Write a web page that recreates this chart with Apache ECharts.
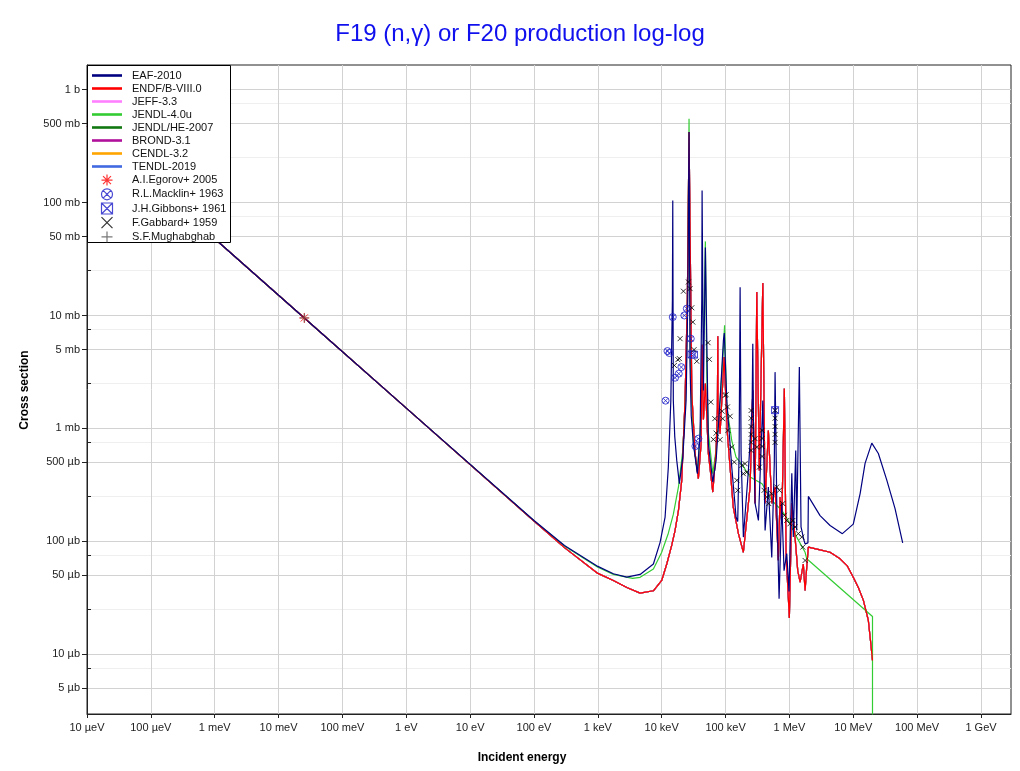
<!DOCTYPE html>
<html><head><meta charset="utf-8">
<script src="https://cdn.jsdelivr.net/npm/echarts@6/dist/echarts.min.js"></script>
<style>html,body{margin:0;padding:0;background:#fff}#chart{width:1020px;height:771px}</style>
</head><body><div id="chart"></div>
<script>
// ---------- tick labels ----------
const xDecades = [-5,-4,-3,-2,-1,0,1,2,3,4,5,6,7,8,9];
const xTickLabels = ['10 µeV','100 µeV','1 meV','10 meV','100 meV','1 eV','10 eV','100 eV','1 keV','10 keV','100 keV','1 MeV','10 MeV','100 MeV','1 GeV'];
const yMajorValues = [1, 0.5, 0.1, 0.05, 0.01, 0.005, 1e-3, 5e-4, 1e-4, 5e-5, 1e-5, 5e-6];
const yMajorLabels = ['1 b','500 mb','100 mb','50 mb','10 mb','5 mb','1 mb','500 µb','100 µb','50 µb','10 µb','5 µb'];
const yMinorValues = [0.75, 0.25, 0.075, 0.025, 7.5e-3, 2.5e-3, 7.5e-4, 2.5e-4, 7.5e-5, 2.5e-5, 7.5e-6];

// ---------- evaluated data: [energy (eV), cross section (b)] ----------
const eaf2010 = [
 [1e-5,0.478],[1e-3,0.0478],[0.0253,9.5e-3],[1,1.511e-3],[100,1.53e-4],[300,9.2e-5],
 [1000,6.0e-5],[1750,5.16e-5],[2840,4.82e-5],[4590,5.09e-5],[7410,6.3e-5],[9440,9.8e-5],
 [11300,1.64e-4],[12700,4.54e-4],[13900,1.77e-3],[14700,1.36e-2],[14900,0.104],[15200,1.77e-3],
 [16000,8.5e-4],[17200,5.21e-4],[18900,3.24e-4],[21400,5.57e-4],[24100,1.77e-3],[25600,1.36e-2],[26800,0.421],
 [27800,3.49e-3],[29000,1.3e-3],[31300,7.32e-4],[36200,3.97e-4],[39900,8.97e-4],[42400,1.36e-2],[42900,0.128],
 [45000,2.17e-3],[48300,0.040],[53800,7.32e-4],[63100,3.35e-4],[71100,5.21e-4],[82000,1.77e-3],
 [92500,6.0e-3],[95500,7.0e-3],[104500,1.77e-3],[125000,4.54e-4],[146000,1.64e-4],[155000,1.5e-4],
 [163000,6.0e-4],[169000,1.78e-2],[175000,6.0e-4],[190000,1.09e-4],[228000,4.25e-4],[260000,1.5e-3],
 [267000,5.63e-3],[275000,8.0e-4],[290000,2.17e-4],[327000,1.53e-4],[369000,9.6e-4],[383000,1.77e-3],
 [416000,1.25e-4],[468000,3.03e-4],[529000,7.2e-5],[580000,5.0e-4],[596000,3.15e-3],[634000,2.17e-4],
 [689000,3.1e-5],[759000,2.17e-4],[824000,5.5e-5],[908000,7.8e-5],[986000,3.6e-5],[1.09e6,4.0e-4],
 [1.15e6,1.09e-4],[1.256e6,6.38e-4],[1.30e6,1.25e-4],[1.43e6,3.5e-3],[1.52e6,1.34e-4],[1.69e6,1.02e-4],
 [1.76e6,9.5e-5],[1.95e6,9.7e-5],[1.98e6,2.5e-4],[3.02e6,1.69e-4],[4.33e6,1.38e-4],[6.75e6,1.17e-4],
 [1.0e7,1.42e-4],[1.28e7,2.65e-4],[1.53e7,4.9e-4],[1.95e7,7.41e-4],[2.47e7,6.0e-4],[3.34e7,3.5e-4],
 [4.51e7,1.95e-4],[5.94e7,9.7e-5]
];
const endfb80 = [
 [1e-5,0.478],[1e-3,0.0478],[0.0253,9.5e-3],[1,1.511e-3],[100,1.51e-4],[300,8.8e-5],
 [1000,5.2e-5],[1750,4.5e-5],[2840,3.9e-5],[4590,3.48e-5],[7410,3.65e-5],[10000,4.5e-5],
 [12000,6.3e-5],[14400,9.3e-5],[16200,1.25e-4],[18300,1.88e-4],[20600,3.47e-4],[23200,1.77e-3],
 [25200,1.36e-2],[26800,0.421],[29600,2.04e-3],[33300,6.01e-4],[37500,3.59e-4],[41400,7.32e-4],
 [42900,5.5e-3],[45000,1.2e-3],[48300,2.5e-3],[53800,6.0e-4],[63100,2.73e-4],[71100,6.38e-4],
 [74500,1.5e-3],[75500,6.53e-3],[76500,1.5e-3],[82000,8.97e-4],[94800,4.29e-3],[106800,8.97e-4],
 [132000,2.01e-4],[159000,1.17e-4],[190000,8.0e-5],[242000,3.03e-4],[267000,2.17e-3],[290000,2.17e-4],
 [308000,1.61e-2],[338000,4.25e-4],[383000,1.94e-2],[416000,2.17e-4],[468000,9.6e-4],[498000,9.6e-4],
 [529000,2.17e-4],[596000,3.03e-4],[671000,6.8e-5],[713000,2.47e-4],[759000,1.44e-4],[833000,2.25e-3],
 [886000,7.8e-5],[998000,2.1e-5],[1.09e6,2.17e-4],[1.225e6,1.09e-4],[1.35e6,5.5e-5],[1.47e6,4.36e-5],
 [1.65e6,6.3e-5],[1.76e6,3.67e-5],[1.87e6,6.0e-5],[1.98e6,8.9e-5],[3.02e6,8.4e-5],[4.33e6,8.0e-5],
 [6.21e6,7.0e-5],[7.98e6,6.1e-5],[1.0e7,4.8e-5],[1.2e7,3.9e-5],[1.44e7,3.0e-5],[1.72e7,2.0e-5],
 [1.86e7,1.32e-5],[2.0e7,8.8e-6]
];
const jendl40u = [
 [1e-5,0.478],[1e-3,0.0478],[0.0253,9.5e-3],[1,1.511e-3],[100,1.52e-4],[300,9.1e-5],
 [1000,5.9e-5],[1750,5.1e-5],[3500,4.7e-5],[4590,4.8e-5],[7410,5.7e-5],[10000,8.0e-5],
 [12700,1.18e-4],[15200,1.73e-4],[18300,3.03e-4],[21400,6.38e-4],[24100,2.5e-3],[25600,2.0e-2],
 [26800,0.553],[28000,4.0e-3],[31300,7.5e-4],[36200,4.1e-4],[40000,9.5e-4],[44000,3.0e-3],
 [48300,4.53e-2],[50800,3.0e-3],[54000,9.0e-4],[63100,3.97e-4],[71100,6.5e-4],[82000,1.77e-3],
 [92500,5.0e-3],[96500,8.17e-3],[104500,1.55e-3],[125000,7.8e-4],[146000,5.57e-4],[190000,4.6e-4],
 [242000,3.71e-4],[373000,3.24e-4],[529000,2.3e-4],[760000,1.88e-4],[1.02e6,1.44e-4],[1.30e6,1.09e-4],
 [1.76e6,8.0e-5],[1.87e6,7.0e-5],[2.0e7,2.16e-5],[2.0e7,0]
];
// libraries whose curves lie underneath the ENDF/B-VIII.0 curve
const jeff33 = endfb80;
const jendlHe2007 = endfb80;
const brond31 = endfb80;
const cendl32 = endfb80;
const tendl2019 = endfb80;

// ---------- experimental data: [energy (eV), cross section (b)] ----------
const egorov2005 = [[0.0253,9.51e-3]];
const mughabghab = [[0.0253,9.51e-3]];
const macklin1963 = [
 [11500,1.76e-3],[12300,4.84e-3],[13200,4.65e-3],[14900,9.68e-3],[16200,2.81e-3],[18500,3.05e-3],
 [20300,3.49e-3],[22600,1.0e-2],[24700,1.15e-2],[28500,6.23e-3],[33700,6.97e-4],[37500,8.11e-4]
];
const gibbons1961 = [[29300,4.52e-3],[32000,4.5e-3],[596000,1.45e-3]];
const gabbard1959 = [
 [15800,3.61e-3],[17900,4.06e-3],[18900,4.15e-3],[19400,6.23e-3],[21900,1.64e-2],[26200,1.98e-2],
 [27800,1.73e-2],[29600,1.17e-2],[30700,8.74e-3],[32100,4.98e-3],[35400,3.93e-3],[53200,5.74e-3],
 [55800,4.09e-3],[58700,1.71e-3],[64400,7.99e-4],[67800,1.22e-3],[71100,9.08e-4],[82000,7.94e-4],
 [88200,1.42e-3],[90400,1.22e-3],[98300,1.96e-3],[102000,1.99e-3],[107000,1.55e-3],[109000,9.6e-4],
 [118000,1.28e-3],[125000,6.83e-4],[137000,5.03e-4],[150000,3.47e-4],[155000,2.83e-4],[180000,4.7e-4],
 [190000,3.97e-4],[202000,4.87e-4],[215000,4.1e-4],
 [251000,1.44e-3],[251000,1.23e-3],[251000,1.04e-3],[251000,8.85e-4],[251000,7.52e-4],[251000,6.38e-4],
 [290000,8.11e-4],[308000,6.83e-4],[338000,4.54e-4],
 [373000,9.6e-4],[373000,8.15e-4],[373000,6.93e-4],[373000,5.65e-4],
 [401000,2.83e-4],[442000,2.47e-4],[475000,2.16e-4],[529000,2.64e-4],
 [596000,1.44e-3],[596000,1.23e-3],[596000,1.04e-3],[596000,8.85e-4],[596000,7.52e-4],
 [634000,3.03e-4],[696000,2.83e-4],[787000,2.16e-4],[833000,1.7e-4],[908000,1.53e-4],[1.02e6,1.43e-4],
 [1.13e6,1.53e-4],[1.225e6,1.34e-4],[1.38e6,1.17e-4],[1.56e6,1.09e-4],[1.62e6,8.89e-5],[1.76e6,6.77e-5]
];

// ---------- build ----------
const L = v => Math.log10(Math.max(v, 1e-12));
const toLog = pts => pts.map(p => [L(p[0]), L(p[1])]);
const FONT = 'Liberation Sans, Arial, Helvetica, sans-serif';

const lineDefs = [
  ['EAF-2010', '#000080', eaf2010],
  ['ENDF/B-VIII.0', '#ff0000', endfb80],
  ['JEFF-3.3', '#ff80ff', jeff33],
  ['JENDL-4.0u', '#33cc33', jendl40u],
  ['JENDL/HE-2007', '#117711', jendlHe2007],
  ['BROND-3.1', '#b0109a', brond31],
  ['CENDL-3.2', '#ffa500', cendl32],
  ['TENDL-2019', '#4169e1', tendl2019]
];
// drawing order (last on top)
const drawOrder = ['TENDL-2019','CENDL-3.2','BROND-3.1','JENDL/HE-2007','JEFF-3.3','JENDL-4.0u','ENDF/B-VIII.0','EAF-2010'];

const SYM = {
  asterisk: 'path://M0,-5 L0,5 M-5,0 L5,0 M-3.6,-3.6 L3.6,3.6 M-3.6,3.6 L3.6,-3.6',
  circleX: 'path://M5,0 A5,5 0 1,1 -5,0 A5,5 0 1,1 5,0 Z M-3.5,-3.5 L3.5,3.5 M-3.5,3.5 L3.5,-3.5',
  squareX: 'path://M-5,-5 L5,-5 L5,5 L-5,5 Z M-5,-5 L5,5 M-5,5 L5,-5',
  cross: 'path://M-5,-5 L5,5 M-5,5 L5,-5',
  plus: 'path://M0,-5 L0,5 M-5,0 L5,0'
};
const LINE_ICON = 'path://M0,0 L30,0 L30,2.6 L0,2.6 Z';
const scatterDefs = [
  ['A.I.Egorov+ 2005', '#ff0000', egorov2005, SYM.asterisk, 10],
  ['R.L.Macklin+ 1963', '#1c1cc8', macklin1963, SYM.circleX, 7],
  ['J.H.Gibbons+ 1961', '#1c1cc8', gibbons1961, SYM.squareX, 7],
  ['F.Gabbard+ 1959', '#000000', gabbard1959, SYM.cross, 5],
  ['S.F.Mughabghab', '#555555', mughabghab, SYM.plus, 9]
];

const series = [];
drawOrder.forEach(n => {
  const d = lineDefs.find(x => x[0] === n);
  series.push({
    name: d[0], type: 'line', data: toLog(d[2]), symbol: 'none', showSymbol: false,
    lineStyle: { color: d[1], width: 1.2 }, itemStyle: { color: d[1] }, z: 2,
    clip: true, animation: false
  });
});
scatterDefs.forEach(d => {
  series.push({
    name: d[0], type: 'scatter', data: toLog(d[2]), symbol: d[3], symbolSize: d[4],
    symbolKeepAspect: true,
    itemStyle: { color: 'rgba(0,0,0,0)', borderColor: d[1], borderWidth: 1 }, z: 3,
    animation: false
  });
});

const yMajorLog = yMajorValues.map(L);
const yMinorLog = yMinorValues.map(L);
const yLabelFor = v => { let best = 0, bd = 1e9; yMajorLog.forEach((t,i) => { const dd = Math.abs(t - v); if (dd < bd) { bd = dd; best = i; } }); return yMajorLabels[best]; };
const xLabelFor = v => xTickLabels[Math.round(v) + 5] || '';

const Y_MIN = -5.529, Y_MAX = 0.218, X_MIN = -5, X_MAX = 9.47;

const chart = echarts.init(document.getElementById('chart'), null, { renderer: 'canvas' });
chart.setOption({
  animation: false,
  backgroundColor: '#ffffff',
  textStyle: { fontFamily: FONT },
  title: {
    text: 'F19 (n,γ) or F20 production log-log', left: 520, top: 22, padding: 0, textAlign: 'center',
    textStyle: { color: '#1010ee', fontSize: 24, fontWeight: 'normal', fontFamily: FONT }
  },
  grid: { left: 87, right: 9, top: 65, bottom: 57, show: true, borderColor: '#222', borderWidth: 1, outerBoundsMode: 'none', containLabel: false },
  xAxis: {
    type: 'value', min: X_MIN, max: X_MAX,
    axisLine: { show: true, onZero: false, lineStyle: { color: '#222', width: 1 } },
    axisTick: { show: true, customValues: xDecades, length: 4, lineStyle: { color: '#222' } },
    axisLabel: { customValues: xDecades, formatter: xLabelFor, fontSize: 11, color: '#222', margin: 8, fontFamily: FONT },
    splitLine: { show: true, lineStyle: { color: '#d2d2d2', width: 1 } }
  },
  yAxis: [{
    type: 'value', min: Y_MIN, max: Y_MAX, position: 'left',
    axisLine: { show: true, onZero: false, lineStyle: { color: '#222', width: 1 } },
    axisTick: { show: true, customValues: yMajorLog, length: 5, lineStyle: { color: '#222' } },
    axisLabel: { customValues: yMajorLog, formatter: yLabelFor, fontSize: 11, color: '#222', margin: 7, fontFamily: FONT },
    splitLine: { show: true, lineStyle: { color: '#d2d2d2', width: 1 } }
  }, {
    type: 'value', min: Y_MIN, max: Y_MAX, position: 'left', alignTicks: false,
    axisLine: { show: false, onZero: false },
    axisTick: { show: true, inside: true, customValues: yMinorLog, length: 4, lineStyle: { color: '#222' } },
    axisLabel: { show: false, customValues: yMinorLog },
    splitLine: { show: true, lineStyle: { color: '#efefef', width: 1 } }
  }],
  legend: {
    orient: 'vertical', left: 92, top: 70, padding: 0, z: 20,
    itemWidth: 30, itemHeight: 11, itemGap: 2, symbolKeepAspect: true,
    data: lineDefs.map(d => ({ name: d[0], icon: LINE_ICON, itemStyle: { color: d[1], borderWidth: 0 } }))
      .concat(scatterDefs.map(d => ({ name: d[0] }))),
    textStyle: { fontSize: 11, lineHeight: 11, color: '#111', padding: [0,0,0,5], fontFamily: FONT },
    itemStyle: { borderWidth: 1.2 },
    selectedMode: false
  },
  graphic: { elements: [
    { type: 'rect', z: 10, silent: true, shape: { x: 87.5, y: 65.5, width: 143, height: 177 }, style: { fill: '#ffffff', stroke: '#000000', lineWidth: 1 } },
    { type: 'text', z: 10, x: 522, y: 758, style: { text: 'Incident energy', font: 'bold 12px ' + FONT, fill: '#000', textAlign: 'center', textVerticalAlign: 'middle', verticalAlign: 'middle' } },
    { type: 'text', z: 10, x: 25, y: 390, rotation: Math.PI / 2, style: { text: 'Cross section', font: 'bold 12px ' + FONT, fill: '#000', textAlign: 'center', textVerticalAlign: 'middle', verticalAlign: 'middle' } }
  ] },
  series: series
});
</script>
</body></html>
